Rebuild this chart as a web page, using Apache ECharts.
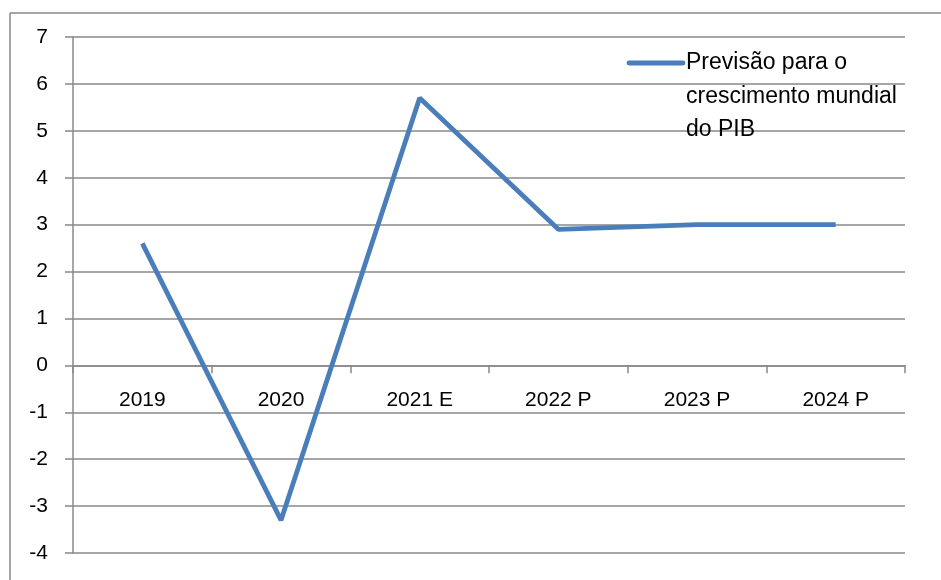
<!DOCTYPE html>
<html><head><meta charset="utf-8">
<script src="https://cdn.jsdelivr.net/npm/echarts@6/dist/echarts.min.js"></script>
<style>html,body{margin:0;padding:0;background:#fff}#c{width:941px;height:580px}</style>
</head><body><div id="c"></div>
<script>
const categories = ['2019', '2020', '2021 E', '2022 P', '2023 P', '2024 P'];
const growth = [2.6, -3.3, 5.7, 2.9, 3.0, 3.0];
const seriesName = 'Previsão para o crescimento mundial do PIB';
const legendLines = ['Previsão para o', 'crescimento mundial', 'do PIB'];
const yMin = -4, yMax = 7, yStep = 1;

const FONT = 'Liberation Sans';
const gridTop = 37, gridBottom = 27, H = 580;
const plotH = H - gridTop - gridBottom;
const zeroFromBottom = plotH * (0 - yMin) / (yMax - yMin);

const chart = echarts.init(document.getElementById('c'), null, {renderer: 'canvas'});
chart.setOption({
  animation: false,
  backgroundColor: '#fff',
  grid: {left: 73, right: 36, top: gridTop, bottom: gridBottom, outerBoundsMode: 'none', containLabel: false},
  xAxis: {
    type: 'category', data: categories, boundaryGap: true,
    offset: -zeroFromBottom,
    axisLine: {onZero: false, lineStyle: {color: '#888', width: 1.5}},
    axisTick: {show: true, length: 8, alignWithLabel: false, lineStyle: {color: '#888', width: 1.5}},
    axisLabel: {color: '#000', fontFamily: FONT, fontSize: 21, margin: 24},
    splitLine: {show: false}
  },
  yAxis: {
    type: 'value', min: yMin, max: yMax, interval: yStep,
    axisLine: {show: true, lineStyle: {color: '#888', width: 1.5}},
    axisTick: {show: true, length: 8, lineStyle: {color: '#888', width: 1.5}},
    axisLabel: {color: '#000', fontFamily: FONT, fontSize: 21, margin: 25},
    splitLine: {show: true, lineStyle: {color: '#888', width: 1.5}}
  },
  series: [{
    name: seriesName, type: 'line', data: growth,
    symbol: 'none', lineStyle: {color: '#4a7ebb', width: 4.8}, itemStyle: {color: '#4a7ebb'}
  }],
  graphic: [
    {type: 'line', shape: {x1: 10, y1: 13, x2: 941, y2: 13}, style: {stroke: '#888', lineWidth: 1.5}, silent: true},
    {type: 'line', shape: {x1: 10, y1: 13, x2: 10, y2: 580}, style: {stroke: '#888', lineWidth: 1.5}, silent: true},
    {type: 'line', shape: {x1: 629, y1: 63, x2: 683, y2: 63}, style: {stroke: '#4a7ebb', lineWidth: 4.8, lineCap: 'round'}, z: 10},
    {type: 'text', left: 686, top: 46, z: 10,
     style: {text: legendLines.join('\n'), fill: '#000', font: '23px "' + FONT + '"', lineHeight: 33.5}}
  ]
});
</script></body></html>
